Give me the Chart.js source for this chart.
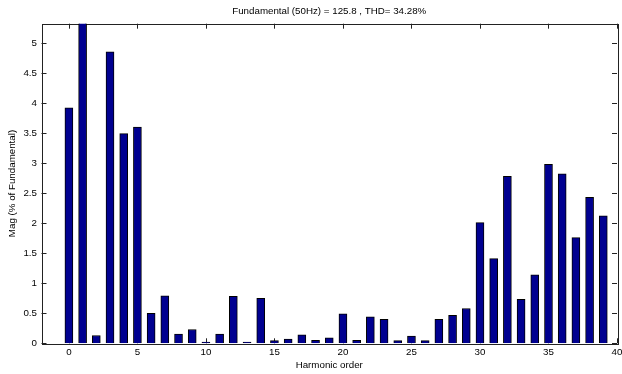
<!DOCTYPE html>
<html>
<head>
<meta charset="utf-8">
<script src="https://cdn.jsdelivr.net/npm/chart.js@4/dist/chart.umd.min.js"></script>
<style>
  html, body { margin: 0; padding: 0; background: #fff; }
  #wrap { width: 622px; height: 374px; position: relative; }
</style>
</head>
<body>
<div id="wrap"><canvas id="fft"></canvas></div>
<script>
const harmonics = [0, 1, 2, 3, 4, 5, 6, 7, 8, 9, 10, 11, 12, 13, 14, 15, 16, 17, 18, 19,
  20, 21, 22, 23, 24, 25, 26, 27, 28, 29, 30, 31, 32, 33, 34, 35, 36, 37, 38, 39];
// % of fundamental; the fundamental (order 1) is 100 and runs off the top of the axes
const magnitudes = [3.92, 100, 0.13, 4.85, 3.49, 3.60, 0.50, 0.79, 0.155, 0.23,
  0.02, 0.155, 0.78, 0.02, 0.75, 0.045, 0.07, 0.14, 0.05, 0.09,
  0.49, 0.05, 0.44, 0.40, 0.045, 0.12, 0.045, 0.40, 0.465, 0.58,
  2.01, 1.41, 2.78, 0.73, 1.14, 2.98, 2.82, 1.76, 2.43, 2.12];
const xTicks = [0, 5, 10, 15, 20, 25, 30, 35, 40];
const yTicks = [0, 0.5, 1, 1.5, 2, 2.5, 3, 3.5, 4, 4.5, 5];

const font = { family: 'Liberation Sans, Arial, sans-serif', size: 9.75 };

// matlab style box with inward tick marks on all four sides
const axesBox = {
  id: 'axesBox',
  beforeDatasetsDraw(chart) {
    const { ctx, chartArea: a, scales } = chart;
    const tl = 5;
    ctx.save();
    ctx.strokeStyle = '#222';
    ctx.lineWidth = 1;
    ctx.beginPath();
    xTicks.forEach(v => {
      const px = Math.round(scales.x.getPixelForValue(v)) + 0.5;
      ctx.moveTo(px, a.bottom); ctx.lineTo(px, a.bottom - tl);
      ctx.moveTo(px, a.top); ctx.lineTo(px, a.top + tl);
    });
    yTicks.forEach(v => {
      const py = Math.round(scales.y.getPixelForValue(v)) + 0.5;
      ctx.moveTo(a.left, py); ctx.lineTo(a.left + tl, py);
      ctx.moveTo(a.right, py); ctx.lineTo(a.right - tl, py);
    });
    ctx.stroke();
    ctx.strokeRect(Math.round(a.left) + 0.5, Math.round(a.top) + 0.5,
      Math.round(a.right - a.left), Math.round(a.bottom - a.top));
    ctx.restore();
  }
};

new Chart(document.getElementById('fft'), {
  type: 'bar',
  data: {
    labels: harmonics,
    datasets: [{
      data: magnitudes,
      backgroundColor: '#000090',
      borderColor: '#000',
      borderWidth: 1,
      barThickness: 8,
      clip: 0
    }]
  },
  options: {
    responsive: true,
    maintainAspectRatio: false,
    animation: false,
    layout: { padding: { left: 0, right: 5, top: 0, bottom: 0 } },
    plugins: {
      legend: { display: false },
      tooltip: { enabled: false },
      title: {
        display: true,
        fullSize: false,
        text: 'Fundamental (50Hz) = 125.8 , THD= 34.28%',
        color: '#000',
        font: { ...font, weight: 'normal' },
        padding: { top: 5, bottom: 7 }
      }
    },
    scales: {
      x: {
        type: 'linear',
        min: -2,
        max: 40,
        offset: false,
        grid: { display: false, drawTicks: false },
        border: { display: false },
        afterBuildTicks: s => { s.ticks = xTicks.map(v => ({ value: v })); },
        afterFit: s => { s.height = 30.7; s.paddingLeft = 0; s.paddingRight = 0; },
        ticks: { color: '#000', font, padding: 3.5, maxRotation: 0, autoSkip: false, callback: v => String(v) },
        title: { display: true, text: 'Harmonic order', color: '#000', font, padding: { top: 0, bottom: 3.3 } }
      },
      y: {
        min: 0,
        max: 5.32,
        grid: { display: false, drawTicks: false },
        border: { display: false },
        afterBuildTicks: s => { s.ticks = yTicks.map(v => ({ value: v })); },
        afterFit: s => { s.width = 41.5; },
        ticks: { color: '#000', font, padding: 4.5, autoSkip: false, callback: v => String(v) },
        title: { display: true, text: 'Mag (% of Fundamental)', color: '#000', font, padding: { top: 6.3, bottom: 0 } }
      }
    }
  },
  plugins: [axesBox]
});
</script>
</body>
</html>
